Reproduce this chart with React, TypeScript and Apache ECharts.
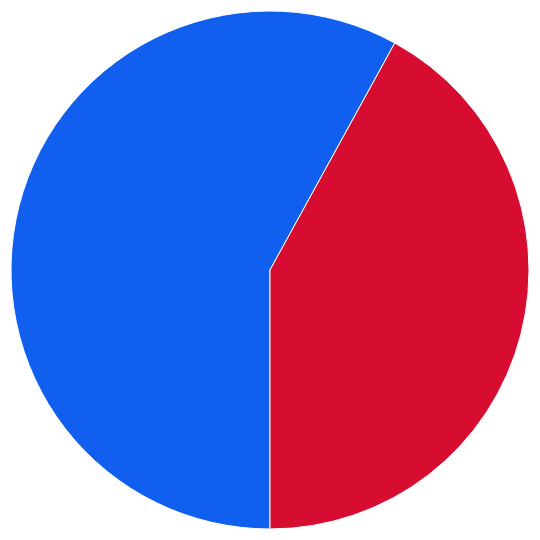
import { useEffect, useRef } from 'react';
import * as echarts from 'echarts';

const names = ['Blue', 'Red'];
const values = [58, 42];
const colors = ['#105FEE', '#D60C30'];

export default function App() {
  const ref = useRef<HTMLDivElement>(null);

  useEffect(() => {
    if (!ref.current) return;
    const chart = echarts.init(ref.current, undefined, { renderer: 'svg' });

    chart.setOption({
      animation: false,
      series: [
        {
          type: 'pie',
          center: [270, 270],
          radius: 259,
          startAngle: -90,
          clockwise: true,
          label: { show: false },
          labelLine: { show: false },
          itemStyle: { borderColor: '#ffffff', borderWidth: 1 },
          data: names.map((n, i) => ({
            name: n,
            value: values[i],
            itemStyle: { color: colors[i] },
          })),
        },
      ],
    });

    return () => {
      chart.dispose();
    };
  }, []);

  return (
    <div
      ref={ref}
      style={{ position: 'fixed', left: 0, top: 0, width: 540, height: 540 }}
    />
  );
}
